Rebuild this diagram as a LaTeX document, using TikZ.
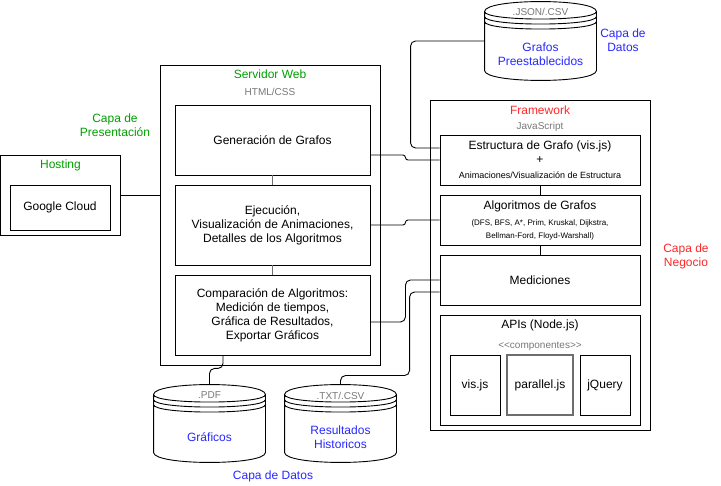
\documentclass[tikz,border=0pt]{standalone}
\usepackage{fontspec}
\setmainfont{Liberation Sans}
\usetikzlibrary{positioning,calc}

\definecolor{capaverde}{RGB}{0,160,0}
\definecolor{caparoja}{RGB}{255,40,40}
\definecolor{capaazul}{RGB}{40,40,255}
\definecolor{gristexto}{RGB}{120,120,120}
\definecolor{grislinea}{RGB}{110,110,110}

\newcommand{\fnorm}{\fontsize{12}{14}\selectfont}
\newcommand{\fchico}{\fontsize{10}{12}\selectfont}
\newcommand{\fmini}{\fontsize{9}{11}\selectfont}
\newcommand{\fmicro}{\fontsize{8}{13}\selectfont}

% cilindro de datos dibujado alrededor de un nodo
\newcommand{\almacen}[1]{%
  \draw let \p1=(#1.north west), \p2=(#1.south east) in
    (\x1,\y1-10pt) .. controls (\x1,\y1+3.33pt) and (\x2,\y1+3.33pt) .. (\x2,\y1-10pt)
      -- (\x2,\y2+10pt) .. controls (\x2,\y2-3.33pt) and (\x1,\y2-3.33pt) .. (\x1,\y2+10pt) -- cycle
    (\x1,\y1-10pt) .. controls (\x1,\y1-20pt) and (\x2,\y1-20pt) .. (\x2,\y1-10pt)
    (\x1,\y1-15pt) .. controls (\x1,\y1-25pt) and (\x2,\y1-25pt) .. (\x2,\y1-15pt)
    (\x1,\y1-20pt) .. controls (\x1,\y1-30pt) and (\x2,\y1-30pt) .. (\x2,\y1-20pt);
}

\begin{document}
\begin{tikzpicture}[x=1pt, y=-1pt, line width=0.9pt,
    caja/.style={draw, rectangle, inner sep=0pt, align=center, font=\fnorm},
    titulo/.style={font=\fnorm, inner sep=0pt},
    nota/.style={font=\fchico, text=gristexto, inner sep=0pt},
    almac/.style={rectangle, inner sep=0pt},
    datos/.style={font=\fnorm, text=capaazul, align=center, inner sep=0pt},
    union/.style={draw=grislinea, line width=1.8pt},
    conex/.style={rounded corners=5pt},
    salto/.style={rounded corners=2.5pt}]
        % Fondo y margenes
        \fill[white] (0,0) rectangle (721,486);
        \useasboundingbox (0,0) rectangle (721,486);

        % Capa de presentacion: hosting
        \node[caja, minimum width=120, minimum height=80] (host) at (60.5,195) {};
        \node[titulo, text=capaverde] (host-t) at ([yshift=-11]host.north) {Hosting};
        \node[caja, minimum width=100, minimum height=45] (gcloud) at (60,207.5) {Google Cloud};
        \node[titulo, text=capaverde, align=center] (presen) at (115,125) {Capa de\\Presentación};

        % Servidor web
        \node[caja, minimum width=220, minimum height=300] (web) at (270,215) {};
        \node[titulo, text=capaverde] (web-t) at ([yshift=-10]web.north) {Servidor Web};
        \node[nota] (web-s) at ([yshift=-27]web.north) {HTML/CSS};
        \node[caja, minimum width=195, minimum height=70] (gen) at (272.5,140) {Generación de Grafos};
        \node[caja, minimum width=195, minimum height=80] (ejec) at (272.5,225) {Ejecución,\\Visualización de Animaciones,\\Detalles de los Algoritmos};
        \node[caja, minimum width=195, minimum height=80] (comp) at (272.5,315) {Comparación de Algoritmos:\\Medición de tiempos,\\Gráfica de Resultados,\\Exportar Gráficos};

        % Capa de negocio: framework
        \node[caja, minimum width=220, minimum height=330] (fw) at (540,265) {};
        \node[titulo, text=caparoja] (fw-t) at ([yshift=-11]fw.north) {Framework};
        \node[nota] (fw-s) at ([yshift=-27]fw.north) {JavaScript};
        \node[caja, minimum width=200, minimum height=50] (estr) at (540,160) {Estructura de Grafo (vis.js)\\+\\[1pt]{\fmini Animaciones/Visualización de Estructura}};
        \node[caja, minimum width=200, minimum height=50] (alg) at (540,220) {Algoritmos de Grafos\\[2pt]{\fmicro (DFS, BFS, A*, Prim, Kruskal, Dijkstra,}\\[-1pt]{\fmicro Bellman-Ford, Floyd-Warshall)}};
        \node[caja, minimum width=200, minimum height=50] (med) at (540,280) {Mediciones};
        \node[caja, minimum width=200, minimum height=110] (api) at (540,370) {};
        \node[titulo] (api-t) at ([yshift=-11]api.north) {APIs (Node.js)};
        \node[nota] (api-s) at ([yshift=-32]api.north) {<\kern0pt<componentes>\kern0pt>};
        \node[caja, minimum width=50, minimum height=60] (visjs) at (475,385) {vis.js};
        \node[caja, draw=grislinea, line width=1.8pt, minimum width=66, minimum height=60] (paral) at (540,385) {parallel.js};
        \node[caja, minimum width=50, minimum height=60] (jq) at (605,385) {jQuery};
        \node[titulo, text=caparoja, align=center] (negocio) at (686,256) {Capa de\\Negocio};

        % Capa de datos
        \node[almac, minimum width=111, minimum height=78] (graf) at (540.5,41) {};
        \node[nota] (graf-s) at ([yshift=-10]graf.north) {.JSON/.CSV};
        \node[datos] (graf-t) at ([yshift=-13]graf.center) {Grafos\\Preestablecidos};
        \node[datos] (datos1) at (623,40) {Capa de\\Datos};
        \node[almac, minimum width=111, minimum height=77] (grafic) at (209.5,423.5) {};
        \node[nota] (grafic-s) at ([yshift=-11]grafic.north) {.PDF};
        \node[datos] (grafic-t) at ([yshift=-14]grafic.center) {Gráficos};
        \node[almac, minimum width=111, minimum height=77] (result) at (340.5,423.5) {};
        \node[nota] (result-s) at ([yshift=-11]result.north) {.TXT/.CSV};
        \node[datos] (result-t) at ([yshift=-14]result.center) {Resultados\\Historicos};
        \node[datos] (datos2) at (273,476) {Capa de Datos};
        \almacen{graf}
        \almacen{grafic}
        \almacen{result}

        % Conexiones
        \draw (host.east) -- (host.east -| web.west);
        \draw[union] (gen) -- (ejec);
        \draw[union] (ejec) -- (comp);
        \draw (estr) -- (alg);
        \draw (alg) -- (med);
        \draw[conex] ([xshift=-49.5]comp.south) -- ++(0,13) -| (grafic.north);
        \draw[conex] (graf.west) -| ([xshift=-29,yshift=12]estr.west) -- ([yshift=12]estr.west);
        \draw[salto] ([yshift=-15]gen.east) -- ++(35,0) |- (estr.west);
        \draw[salto] (ejec.east) -- ++(35,0) |- (alg.west);
        \draw[conex] ([yshift=-7]comp.east) -- ++(35,0) |- (med.west);
        \draw[conex] (result.north) -- ++(0,-9) -| ([xshift=-30,yshift=-12]med.west) -- ([yshift=-12]med.west);
    \end{tikzpicture}
\end{document}
